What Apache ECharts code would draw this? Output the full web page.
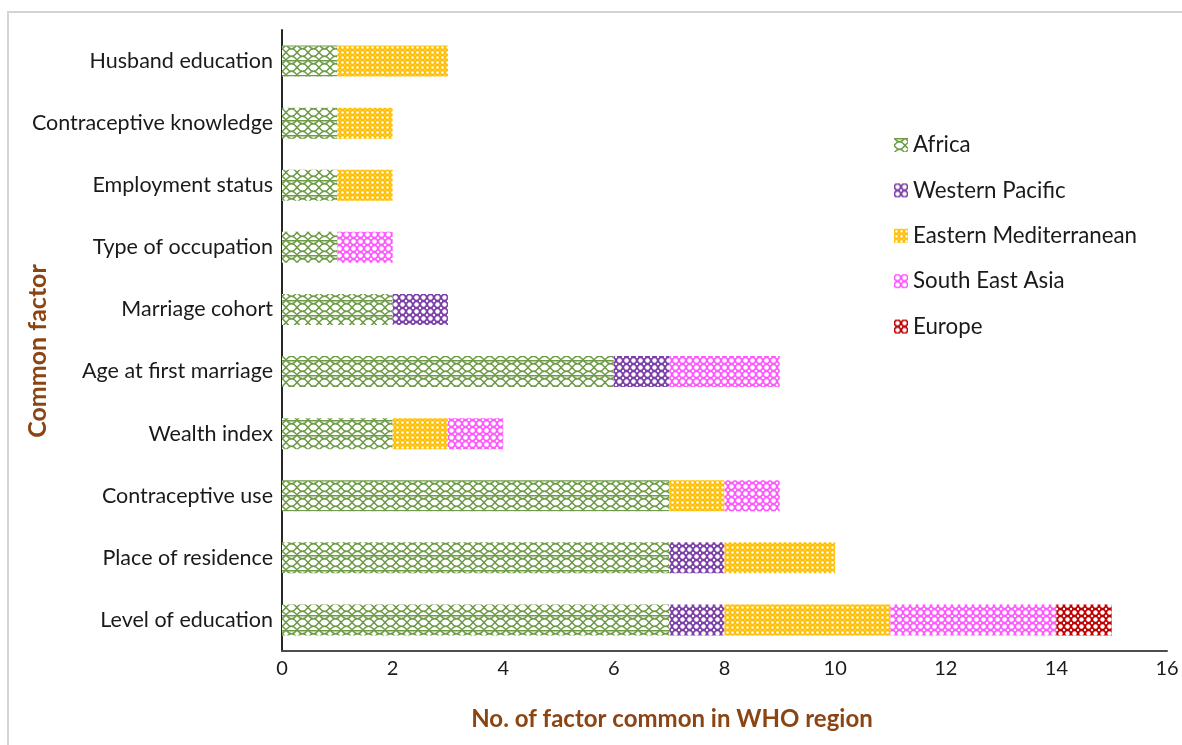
<!DOCTYPE html>
<html>
<head>
<meta charset="utf-8">
<script src="https://cdn.jsdelivr.net/npm/echarts@6/dist/echarts.min.js"></script>
<style>
  html, body { margin: 0; padding: 0; background: #fff; }
  #chart { width: 1182px; height: 745px; }
</style>
</head>
<body>
<div id="chart"></div>
<script>
// Factors (bottom to top on the category axis)
const factors = [
  'Level of education',
  'Place of residence',
  'Contraceptive use',
  'Wealth index',
  'Age at first marriage',
  'Marriage cohort',
  'Type of occupation',
  'Employment status',
  'Contraceptive knowledge',
  'Husband education'
];

// Number of studies per WHO region reporting each factor
const africa         = [7, 7, 7, 2, 6, 2, 1, 1, 1, 1];
const westernPacific = [1, 1, 0, 0, 1, 1, 0, 0, 0, 0];
const easternMed     = [3, 2, 1, 1, 0, 0, 0, 1, 1, 2];
const southEastAsia  = [3, 0, 1, 1, 2, 0, 1, 0, 0, 0];
const europe         = [1, 0, 0, 0, 0, 0, 0, 0, 0, 0];

const xTicks = [0, 2, 4, 6, 8, 10, 12, 14, 16];

// ---- hatch fills -------------------------------------------------------
function tile(w, h, draw) {
  const c = document.createElement('canvas');
  c.width = w; c.height = h;
  draw(c.getContext('2d'), w, h);
  return { image: c, repeat: 'repeat' };
}

// open trellis: crossed arcs with a rule every second row
function trellis(col) {
  return tile(11, 15, (ctx, w, h) => {
    ctx.fillStyle = '#fff';
    ctx.fillRect(0, 0, w, h);
    ctx.strokeStyle = col;
    ctx.lineWidth = 1.4;
    ctx.beginPath();
    ctx.moveTo(0, 0.7); ctx.lineTo(w, 0.7);
    ctx.moveTo(0, 0); ctx.quadraticCurveTo(w / 2, 7.5, w, 0);
    ctx.moveTo(0, 7.5); ctx.quadraticCurveTo(w / 2, 0, w, 7.5);
    ctx.moveTo(0, 7.5); ctx.quadraticCurveTo(w / 2, 15, w, 7.5);
    ctx.moveTo(0, 15); ctx.quadraticCurveTo(w / 2, 7.5, w, 15);
    ctx.stroke();
  });
}

// solid colour pierced by a lattice of white holes
function lattice(col, size, r, r2) {
  return tile(size, size, (ctx, w, h) => {
    ctx.fillStyle = col;
    ctx.fillRect(0, 0, w, h);
    ctx.fillStyle = '#fff';
    ctx.beginPath();
    ctx.arc(w / 2, h / 2, r, 0, Math.PI * 2);
    ctx.fill();
    if (r2) {
      [[0, 0], [w, 0], [0, h], [w, h]].forEach(([x, y]) => {
        ctx.beginPath();
        ctx.arc(x, y, r2, 0, Math.PI * 2);
        ctx.fill();
      });
    }
  });
}

const fills = {
  africa: trellis('#6E9B47'),
  wp: lattice('#7B3FA8', 7, 2.2, 1.2),
  em: lattice('#FFBF00', 5, 1.3, 0.6),
  sea: lattice('#FF55FF', 7, 2.3, 1.3),
  eu: lattice('#C00000', 7, 2.2, 1.2)
};

const seriesDefs = [
  ['Africa', africa, fills.africa],
  ['Western Pacific', westernPacific, fills.wp],
  ['Eastern Mediterranean', easternMed, fills.em],
  ['South East Asia', southEastAsia, fills.sea],
  ['Europe', europe, fills.eu]
];

const FONT = 'Lato, "Open Sans", sans-serif';
const TITLE_COLOR = '#8B4513';

const chart = echarts.init(document.getElementById('chart'), null, { renderer: 'canvas' });

chart.setOption({
  backgroundColor: '#fff',
  animation: false,
  grid: { left: 282, right: 15, top: 30, bottom: 94, containLabel: false },
  legend: {
    orient: 'vertical',
    left: 889,
    top: 129,
    icon: 'rect',
    itemWidth: 14,
    itemHeight: 14,
    itemGap: 23.4,
    textStyle: { fontFamily: FONT, fontSize: 22.3, color: '#1a1a1a' },
    data: seriesDefs.map(d => d[0])
  },
  xAxis: {
    type: 'value',
    min: 0,
    max: 16,
    interval: 2,
    axisLine: { show: true, lineStyle: { color: '#4d4d4d', width: 2 } },
    axisTick: { show: false },
    splitLine: { show: false },
    axisLabel: {
      fontFamily: FONT, fontSize: 20, color: '#1a1a1a', margin: 8,
      formatter: v => (xTicks.includes(v) ? String(v) : '')
    }
  },
  yAxis: {
    type: 'category',
    data: factors,
    axisLine: { show: true, lineStyle: { color: '#262626', width: 2 } },
    axisTick: { show: false },
    axisLabel: { fontFamily: FONT, fontSize: 21.5, color: '#1a1a1a', margin: 9 }
  },
  series: seriesDefs.map(([name, vals, fill]) => ({
    name,
    type: 'bar',
    stack: 'regions',
    barWidth: 31,
    data: vals.map(v => (v === 0 ? null : v)),
    itemStyle: { color: fill }
  })),
  graphic: [
    {
      type: 'rect',
      shape: { x: 8, y: 12, width: 1200, height: 800 },
      style: { fill: 'none', stroke: '#d4d4d4', lineWidth: 2 },
      silent: true, z: -1
    },
    {
      type: 'text',
      x: 672, y: 719,
      style: {
        text: 'No. of factor common in WHO region',
        fontFamily: FONT, fontSize: 24, fontWeight: 'bold', fill: TITLE_COLOR,
        align: 'center', verticalAlign: 'middle'
      }
    },
    {
      type: 'text',
      x: 38, y: 351,
      rotation: Math.PI / 2,
      style: {
        text: 'Common factor',
        fontFamily: FONT, fontSize: 25, fontWeight: 'bold', fill: TITLE_COLOR,
        align: 'center', verticalAlign: 'middle'
      }
    }
  ]
});
</script>
</body>
</html>
